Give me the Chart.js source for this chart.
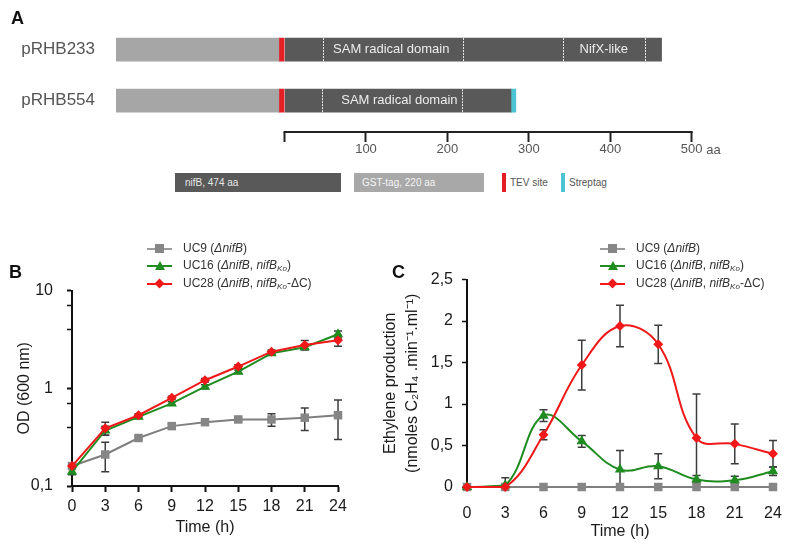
<!DOCTYPE html>
<html>
<head>
<meta charset="utf-8">
<script src="https://cdn.jsdelivr.net/npm/chart.js@4.4.0/dist/chart.umd.min.js"></script>
<style>
  body { margin: 0; background: #fff; }
  #fig { position: relative; width: 797px; height: 545px; overflow: hidden; font-family: "Liberation Sans", Arial, sans-serif; }
  canvas { position: absolute; }
  .panel { position: absolute; font-weight: bold; font-size: 18px; color: #111; z-index: 3; }
  .key { position: absolute; top: 173px; height: 19px; line-height: 19px; font-size: 10px; }
  .legend { position: absolute; font-size: 12px; color: #333; z-index: 2; }
  .legend .row { position: relative; height: 17.5px; line-height: 17.5px; width: 200px; }
  .legend .ln { position: absolute; left: 0; top: 8px; width: 25px; height: 2px; }
  .legend .mk { position: absolute; }
  .legend .txt { position: absolute; left: 36px; top: 0; white-space: nowrap; }
  .legend sub { font-size: 8px; vertical-align: -2px; }
</style>
</head>
<body>
<div id="fig">
  <div class="panel" style="left:11px;top:8px">A</div>
  <div class="panel" style="left:9px;top:262px">B</div>
  <div class="panel" style="left:392px;top:262px">C</div>

  <canvas id="chartA" width="797" height="165" style="left:0;top:0"></canvas>
  <canvas id="chartB" width="390" height="278" style="left:0;top:267px"></canvas>
  <canvas id="chartC" width="417" height="284" style="left:380px;top:261px"></canvas>

  <div class="key" style="left:175px;width:166px;background:#595959;color:#e6e6e6;padding-left:10px;box-sizing:border-box">nifB, 474 aa</div>
  <div class="key" style="left:354px;width:130px;background:#a8a8a8;color:#f4f4f4;padding-left:8px;box-sizing:border-box">GST-tag, 220 aa</div>
  <div class="key" style="left:502px;width:4px;background:#e31e24"></div>
  <div class="key" style="left:510px;color:#555">TEV site</div>
  <div class="key" style="left:561px;width:4px;background:#4dc4d1"></div>
  <div class="key" style="left:569px;color:#555">Streptag</div>

  <div class="legend" id="legendB" style="left:147px;top:239.5px"></div>
  <div class="legend" id="legendC" style="left:600px;top:239.5px"></div>
</div>

<script>
// panel A: construct map, in amino acids (0 = start of nifB)
const constructs = ['pRHB233', 'pRHB554'];
const gstTag = [[-207, -7], [-207, -7]];
const tevSite = [[-7, 0], [-7, 0]];
const nifBPart = [[0, 463], [0, 278]];
const strepTag = [null, [278, 284]];
const domainEdges = [[47, 219, 342, 443], [46, 218]];
const domainNames = [['SAM radical domain', 'NifX-like'], ['SAM radical domain']];
const domainCentres = [[131, 392], [141]];
const aaTicks = [0, 100, 200, 300, 400, 500];

// panels B and C
const hours = [0, 3, 6, 9, 12, 15, 18, 21, 24];
const strainLabels = [
    'UC9 (<i>ΔnifB</i>)',
    'UC16 (<i>ΔnifB</i>, <i>nifB<sub>Ko</sub></i>)',
    'UC28 (<i>ΔnifB</i>, <i>nifB<sub>Ko</sub></i>-ΔC)'
];

const odUC9 = [0.16, 0.21, 0.31, 0.41, 0.45, 0.48, 0.48, 0.50, 0.53];
const odUC9Err = [0.01, 0.07, 0.01, 0.02, 0.02, 0.02, 0.07, 0.13, 0.23];
const odUC16 = [0.14, 0.37, 0.51, 0.70, 1.04, 1.48, 2.28, 2.63, 3.57];
const odUC16Err = [0.01, 0.04, 0.02, 0.03, 0.05, 0.06, 0.1, 0.15, 0.3];
const odUC28 = [0.16, 0.39, 0.53, 0.80, 1.21, 1.67, 2.37, 2.78, 3.1];
const odUC28Err = [0.01, 0.06, 0.02, 0.03, 0.05, 0.07, 0.1, 0.3, 0.4];
const odTicks = [0.1, 0.2, 0.3, 0.4, 0.5, 0.6, 0.7, 0.8, 0.9, 1, 2, 3, 4, 5, 6, 7, 8, 9, 10];

const ethUC9 = [0, 0, 0, 0, 0, 0, 0, 0, 0];
const ethUC16 = [0, 0.02, 0.86, 0.55, 0.21, 0.25, 0.09, 0.08, 0.19];
const ethUC16Err = [0, 0.09, 0.07, 0.07, 0.23, 0.15, 0.05, 0.05, 0.05];
const ethUC28 = [0, 0, 0.63, 1.47, 1.94, 1.72, 0.59, 0.52, 0.40];
const ethUC28Err = [0, 0, 0.06, 0.30, 0.25, 0.23, 0.53, 0.24, 0.16];

const GREY = '#868686';
const GREEN = '#1f8c1f';
const RED = '#f01818';

Chart.defaults.font.family = '"Liberation Sans", Arial, sans-serif';
Chart.defaults.color = '#1a1a1a';

const rows = arr => arr.map((r, i) => r ? {x: r, y: i} : null).filter(Boolean);
const pairs = arr => arr.map((v, i) => ({x: hours[i], y: v}));

// draws the dashed domain borders, the domain names and the 0-500 aa ruler
const schemePlugin = {
    id: 'scheme',
    afterDraw(chart) {
        const {ctx, chartArea} = chart;
        const x = chart.scales.x, y = chart.scales.y;
        ctx.save();
        ctx.strokeStyle = 'rgba(255,255,255,0.85)';
        ctx.lineWidth = 1;
        ctx.setLineDash([2, 1]);
        domainEdges.forEach((edges, i) => {
            const yc = y.getPixelForValue(i);
            edges.forEach(e => {
                const px = Math.round(x.getPixelForValue(e)) + 0.5;
                ctx.beginPath();
                ctx.moveTo(px, yc - 11.5);
                ctx.lineTo(px, yc + 11.5);
                ctx.stroke();
            });
        });
        ctx.setLineDash([]);
        ctx.fillStyle = '#ececec';
        ctx.font = '13px "Liberation Sans", Arial, sans-serif';
        ctx.textAlign = 'center';
        ctx.textBaseline = 'middle';
        domainNames.forEach((names, i) => {
            const yc = y.getPixelForValue(i);
            names.forEach((n, k) => ctx.fillText(n, x.getPixelForValue(domainCentres[i][k]), yc));
        });
        // ruler line
        ctx.strokeStyle = '#222';
        ctx.lineWidth = 2;
        ctx.beginPath();
        ctx.moveTo(x.getPixelForValue(aaTicks[0]) - 1, chartArea.bottom);
        ctx.lineTo(x.getPixelForValue(aaTicks[aaTicks.length - 1]) + 1, chartArea.bottom);
        ctx.stroke();
        // unit after the last label
        const last = aaTicks[aaTicks.length - 1];
        ctx.fillStyle = '#555';
        ctx.textAlign = 'left';
        const w = ctx.measureText(String(last)).width;
        ctx.fillText(' aa', x.getPixelForValue(last) + w / 2, chartArea.bottom + 18);
        ctx.restore();
    }
};

const errorBarPlugin = {
    id: 'errorBars',
    beforeDatasetsDraw(chart) {
        const {ctx, chartArea} = chart;
        const y = chart.scales.y;
        ctx.save();
        ctx.beginPath();
        ctx.rect(chartArea.left - 20, chartArea.top - 20, chartArea.width + 40, chartArea.height + 20);
        ctx.clip();
        ctx.strokeStyle = '#3c3c3c';
        ctx.lineWidth = 1.5;
        chart.data.datasets.forEach((ds, i) => {
            if (!ds.errors) return;
            const meta = chart.getDatasetMeta(i);
            ds.data.forEach((p, j) => {
                const e = ds.errors[j];
                if (!e) return;
                const px = meta.data[j].x;
                const lo = y.type === 'logarithmic' ? Math.max(p.y - e, y.min) : p.y - e;
                const top = y.getPixelForValue(p.y + e);
                const bot = y.getPixelForValue(lo);
                ctx.beginPath();
                ctx.moveTo(px, top);
                ctx.lineTo(px, bot);
                ctx.moveTo(px - 4, top);
                ctx.lineTo(px + 4, top);
                ctx.moveTo(px - 4, bot);
                ctx.lineTo(px + 4, bot);
                ctx.stroke();
            });
        });
        ctx.restore();
    }
};

new Chart(document.getElementById('chartA'), {
    type: 'bar',
    data: {
        datasets: [
            {label: 'GST-tag', data: rows(gstTag), backgroundColor: '#a6a6a6'},
            {label: 'TEV site', data: rows(tevSite), backgroundColor: '#e31e24'},
            {label: 'nifB', data: rows(nifBPart), backgroundColor: '#595959'},
            {label: 'Streptag', data: rows(strepTag), backgroundColor: '#4dc4d1'}
        ]
    },
    options: {
        indexAxis: 'y',
        responsive: false,
        animation: false,
        layout: {padding: {top: 0, right: 89, bottom: 0, left: 0}},
        datasets: {bar: {grouped: false, barThickness: 23, borderWidth: 0}},
        plugins: {legend: {display: false}, tooltip: {enabled: false}},
        scales: {
            x: {
                type: 'linear', min: -207, max: 520,
                border: {display: false},
                grid: {drawOnChartArea: false, tickLength: 10, tickColor: '#222', tickWidth: 2},
                ticks: {font: {size: 13}, color: '#555', padding: 0, callback: v => v === 0 ? '' : String(v)},
                afterBuildTicks: s => { s.ticks = aaTicks.map(v => ({value: v})); },
                afterFit: s => { s.height = 33; }
            },
            y: {
                type: 'linear', reverse: true, offset: false, min: -0.516, max: 1.613,
                grid: {display: false},
                border: {display: false},
                ticks: {font: {size: 17}, color: '#555', padding: 13, callback: v => constructs[v] ?? ''},
                afterBuildTicks: s => { s.ticks = constructs.map((c, i) => ({value: i})); },
                afterFit: s => { s.width = 116; }
            }
        }
    },
    plugins: [schemePlugin]
});

function seriesSet(grey, greyErr, green, greenErr, red, redErr) {
    return [
        {label: 'UC9', data: pairs(grey), errors: greyErr, borderColor: '#7f7f7f', backgroundColor: GREY,
         pointStyle: 'rect', pointRadius: 6, order: 3},
        {label: 'UC16', data: pairs(green), errors: greenErr, borderColor: GREEN, backgroundColor: GREEN,
         pointStyle: 'triangle', pointRadius: 6, order: 2},
        {label: 'UC28', data: pairs(red), errors: redErr, borderColor: RED, backgroundColor: RED,
         pointStyle: 'rectRot', pointRadius: 5, order: 1}
    ].map(d => Object.assign(d, {borderWidth: 2, pointBorderWidth: 0, clip: false}));
}

const isDecade = v => Math.abs(Math.log10(v) - Math.round(Math.log10(v))) < 1e-6;

new Chart(document.getElementById('chartB'), {
    type: 'line',
    data: {datasets: seriesSet(odUC9, odUC9Err, odUC16, odUC16Err, odUC28, odUC28Err)},
    options: {
        responsive: false,
        animation: false,
        layout: {padding: {top: 0, right: 52, bottom: 0, left: 0}},
        elements: {line: {tension: 0}},
        plugins: {legend: {display: false}, tooltip: {enabled: false}},
        scales: {
            x: {
                type: 'linear', min: 0, max: 24,
                border: {color: '#111', width: 2},
                grid: {drawOnChartArea: false, tickLength: 6, tickColor: '#111', tickWidth: 2},
                ticks: {stepSize: 3, font: {size: 16}, padding: 5},
                title: {display: true, text: 'Time (h)', font: {size: 16}, padding: {top: 0, bottom: 8}},
                afterFit: s => { s.height = 59; }
            },
            y: {
                type: 'logarithmic', min: 0.1, max: 10,
                border: {color: '#111', width: 2},
                grid: {drawOnChartArea: false, tickLength: 5, tickColor: '#111',
                       tickWidth: c => isDecade(c.tick.value) ? 2 : 1.5},
                ticks: {font: {size: 16}, padding: 14,
                        callback: v => isDecade(v) ? String(v).replace('.', ',') : ''},
                afterBuildTicks: s => { s.ticks = odTicks.map(v => ({value: v})); },
                title: {display: true, text: 'OD (600 nm)', font: {size: 16}, padding: {top: 15, bottom: 0}},
                afterFit: s => { s.width = 72; }
            }
        }
    },
    plugins: [errorBarPlugin]
});

new Chart(document.getElementById('chartC'), {
    type: 'line',
    data: {datasets: seriesSet(ethUC9, null, ethUC16, ethUC16Err, ethUC28, ethUC28Err)},
    options: {
        responsive: false,
        animation: false,
        layout: {padding: {top: 0, right: 24, bottom: 0, left: 0}},
        elements: {line: {tension: 0.4}},
        plugins: {legend: {display: false}, tooltip: {enabled: false}},
        scales: {
            x: {
                type: 'linear', min: 0, max: 24,
                border: {display: false},
                grid: {display: false},
                ticks: {stepSize: 3, font: {size: 16}, padding: 9},
                title: {display: true, text: 'Time (h)', font: {size: 16}, padding: {top: 0, bottom: 4}},
                afterFit: s => { s.height = 58; }
            },
            y: {
                min: 0, max: 2.5,
                border: {color: '#111', width: 2},
                grid: {drawOnChartArea: false, tickLength: 5, tickColor: '#111', tickWidth: 1.5},
                ticks: {stepSize: 0.5, font: {size: 16}, padding: 9, callback: v => String(v).replace('.', ',')},
                title: {display: true, text: ['Ethylene production', '(nmoles C₂H₄ .min⁻¹.ml⁻¹)'],
                        font: {size: 16, lineHeight: 1.35}, padding: {top: 0, bottom: 0}},
                afterFit: s => { s.width = 87; }
            }
        }
    },
    plugins: [errorBarPlugin]
});

// HTML legends (mixed italic / subscript text)
const markerCss = [
    `left:8px;top:4.5px;width:9px;height:9px;background:${GREY}`,
    `left:7.5px;top:4px;width:0;height:0;border-left:5px solid transparent;border-right:5px solid transparent;border-bottom:9px solid ${GREEN}`,
    `left:9px;top:5.5px;width:7px;height:7px;background:${RED};transform:rotate(45deg)`
];
const lineColours = ['#9a9a9a', GREEN, RED];
['legendB', 'legendC'].forEach(id => {
    document.getElementById(id).innerHTML = strainLabels.map((lab, i) =>
        `<div class="row"><span class="ln" style="background:${lineColours[i]}"></span>` +
        `<span class="mk" style="${markerCss[i]}"></span><span class="txt">${lab}</span></div>`
    ).join('');
});
</script>
</body>
</html>
